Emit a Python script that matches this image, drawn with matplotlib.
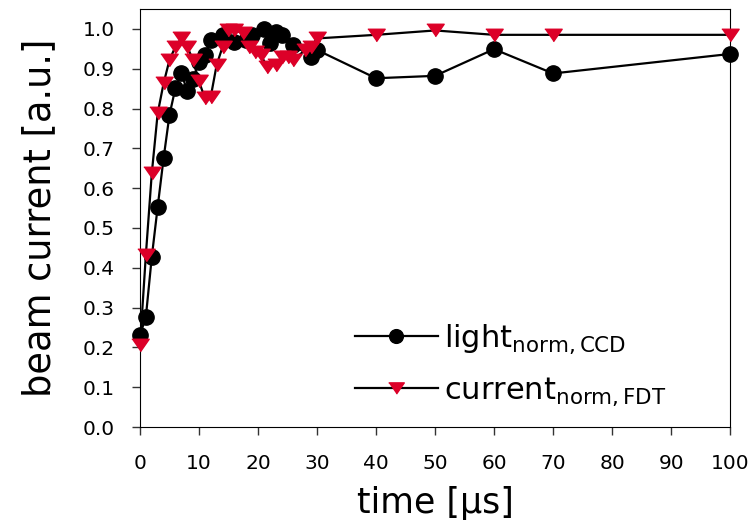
import matplotlib.pyplot as plt

t_light = [0, 1, 2, 3, 4, 5, 6, 7, 8, 9, 10, 11, 12, 14, 16, 18, 19, 21, 22, 23, 24, 26, 29, 30, 40, 50, 60, 70, 100]
light = [0.231, 0.277, 0.427, 0.553, 0.675, 0.784, 0.851, 0.888, 0.845, 0.874, 0.918, 0.935, 0.972, 0.985, 0.968,
         0.972, 0.985, 1.0, 0.964, 0.993, 0.985, 0.96, 0.93, 0.947, 0.876, 0.882, 0.949, 0.888, 0.937]

t_cur = [0, 1, 2, 3, 4, 5, 6, 7, 8, 9, 10, 11, 12, 13, 14, 15, 16, 17.5, 18.5, 19.5, 20.5, 21.5, 23, 24, 25, 26,
         28, 29, 30, 40, 50, 60, 70, 100]
current = [0.205, 0.433, 0.637, 0.788, 0.863, 0.922, 0.955, 0.976, 0.955, 0.922, 0.868, 0.826, 0.83, 0.91, 0.955,
           0.997, 0.997, 0.989, 0.955, 0.943, 0.935, 0.905, 0.91, 0.93, 0.93, 0.922, 0.947, 0.955, 0.976,
           0.985, 0.996, 0.985, 0.985, 0.985]

red = "#DC0028"
tri = [(-1, 0.72), (1, 0.72), (0, -0.72)]

fig = plt.figure(figsize=(7.55, 5.26), dpi=100)
ax = fig.add_axes([0.1854, 0.188, 0.7816, 0.795])

ax.plot(t_light, light, color="black", lw=1.6, marker="o", ms=11, mfc="black", mec="black",
        clip_on=False, zorder=3, label=r"light$_\mathregular{norm,CCD}$")
ax.plot(t_cur, current, color="black", lw=1.6, marker=tri, ms=12.5, mfc=red, mec=red,
        clip_on=False, zorder=4, label=r"current$_\mathregular{norm,FDT}$")

ax.set_xlim(0, 100)
ax.set_ylim(0, 1.05)
ax.set_xticks(range(0, 101, 10))
ax.set_yticks([i / 10 for i in range(11)])
ax.set_yticklabels([f"{i / 10:.1f}" for i in range(11)])
ax.tick_params(direction="out", length=6, width=1, labelsize=14.5, color="#333333")
ax.tick_params(axis="x", pad=13)
ax.tick_params(axis="y", pad=12)

ax.set_xlabel("time [\u03bcs]", fontsize=25, labelpad=10)
ax.set_ylabel("beam current [a.u.]", fontsize=26.5, labelpad=18)

leg = ax.legend(loc="lower left", bbox_to_anchor=(0.318, -0.02), frameon=False, fontsize=22,
                handlelength=2.7, handletextpad=0.2, markerscale=0.9, labelspacing=0.66)

fig.savefig("out.png", dpi=100)
